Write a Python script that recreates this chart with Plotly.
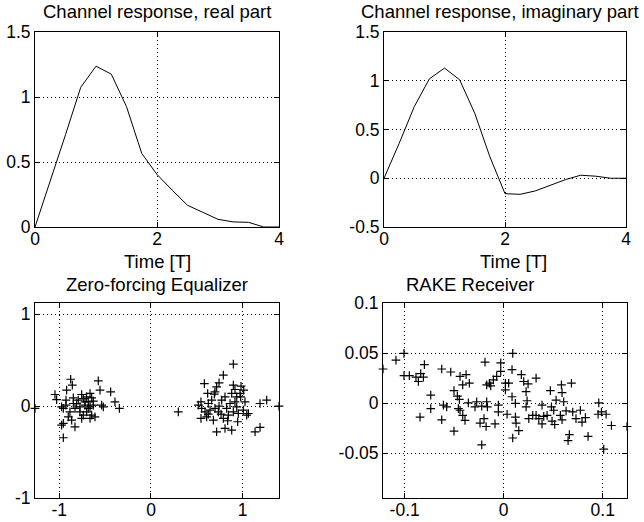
import plotly.graph_objects as go

# ---- channel impulse response, sampled every T/4 ----
time_T = [0, 0.25, 0.5, 0.75, 1.0, 1.25, 1.5, 1.75, 2.0, 2.25, 2.5, 2.75, 3.0, 3.25, 3.5, 3.75, 4.0]
h_real = [0, 0.35, 0.71, 1.075, 1.237, 1.176, 0.926, 0.566, 0.404, 0.283, 0.167, 0.113, 0.059, 0.039, 0.036, 0.0, 0.0]
h_imag = [0, 0.357, 0.734, 1.02, 1.13, 1.01, 0.666, 0.22, -0.158, -0.165, -0.13, -0.075, -0.014, 0.031, 0.021, 0.0, 0.0]

# ---- zero-forcing equalizer output (symbol estimates) ----
zf_real = [
    -0.876, -0.858, -0.575, -0.556, -0.44, -1.047, -1.029, -0.920, -0.927, -0.847,
    -0.756, -0.738, -0.684, -0.702, -0.647, -0.629, -0.665, -0.720, -0.775, -0.811,
    -0.975, -0.956, -0.927, -0.884, -0.829, -0.775, -0.738, -0.647, -0.611, -0.665,
    -0.520, -0.393, -0.345, -0.902, -0.865, -0.829, -0.975, -0.956, -0.956, -0.756,
    -0.702, -0.793, -0.665, -0.629, -0.538, -0.720, -0.684, -0.847, -1.265,
    0.898, 0.789, 0.742, 0.582, 0.618, 0.698, 0.691, 0.716, 0.898, 0.916,
    0.982, 1.011, 0.971, 0.880, 0.807, 0.771, 0.662, 0.545, 0.516, 0.553,
    0.625, 0.644, 0.698, 0.742, 0.735, 0.825, 0.862, 0.916, 0.935, 0.898,
    0.844, 0.953, 1.044, 1.025, 1.189, 1.262, 1.396, 0.298, 0.545, 0.607,
    0.680, 0.945, 0.716, 0.807, 0.880, 1.135, 1.189, 0.625, 0.789, 0.836,
    0.589, 0.764, 0.935, 0.978, 1.007, 1.062,
]
zf_imag = [
    0.293, 0.228, 0.275, 0.174, 0.156, 0.127, 0.072, 0.174, 0.065, 0.091,
    0.127, 0.083, 0.047, 0.101, 0.091, 0.011, -0.007, 0.011, -0.007, 0.029,
    -0.007, -0.025, 0.011, -0.062, -0.025, -0.062, -0.098, -0.098, -0.116, -0.134,
    -0.007, 0.047, -0.025, -0.116, -0.152, -0.225, -0.207, -0.188, -0.344, -0.134,
    -0.062, 0.065, 0.138, 0.054, 0.011, 0.047, -0.025, 0.029, -0.025,
    0.457, 0.337, 0.254, 0.246, 0.138, 0.156, 0.130, 0.210, 0.228, 0.181,
    0.217, 0.174, 0.138, 0.138, 0.101, 0.065, 0.065, 0.047, 0.011, -0.025,
    0.029, -0.043, -0.025, 0.0, -0.062, -0.025, 0.029, 0.047, -0.007, -0.062,
    -0.098, -0.080, -0.098, 0.047, 0.029, 0.065, 0.0, -0.062, -0.134, -0.116,
    -0.152, -0.170, -0.279, -0.243, -0.261, -0.279, -0.232, -0.087, -0.134, -0.159,
    -0.062, -0.087, 0.101, 0.101, -0.043, -0.080,
]

# ---- RAKE receiver output ----
rake_real = [
    -0.1007, -0.1088, -0.1219, -0.1007, -0.0953, -0.0886, -0.0862, -0.0838, -0.0811, -0.0801,
    -0.0737, -0.0737, -0.0845, -0.0626, -0.0535, -0.0441, -0.0380, -0.0414, -0.0347, -0.0502,
    -0.0468, -0.0448, -0.0609, -0.0576, -0.0626, -0.0441, -0.0414, -0.0458, -0.0391, -0.0502,
    -0.0357, -0.0273, -0.0290, -0.0222, -0.0172, -0.0165, -0.0054, -0.0054, -0.0239, -0.0199,
    -0.0178, -0.0088, -0.0222, -0.0189, -0.0145, -0.0104, -0.0071, -0.0030, -0.0030, -0.0131,
    -0.0172,
    0.0091, 0.0084, 0.0017, 0.0050, 0.0017, 0.0178, 0.0202, 0.0246, 0.0226, 0.0236,
    0.0226, 0.0327, 0.0084, 0.0118, 0.0034, 0.0118, 0.0125, 0.0152, 0.0091, 0.0253,
    0.0293, 0.0327, 0.0387, 0.0404, 0.0438, 0.0471, 0.0583, 0.0589, 0.0684, 0.0529,
    0.0482, 0.0505, 0.0488, 0.0515, 0.0589, 0.0630, 0.0697, 0.0730, 0.0774, 0.0791,
    0.0825, 0.0663, 0.0650, 0.0852, 0.0960, 0.0953, 0.0987, 0.1034, 0.1088, 0.1010,
    0.1245, 0.0606, 0.0387, 0.0354, 0.0572,
]
rake_imag = [
    0.0497, 0.0429, 0.0341, 0.0274, 0.0274, 0.0260, 0.0216, 0.0294, 0.0260, 0.0385,
    0.0081, -0.0054, -0.0139, 0.0341, 0.0311, 0.0267, 0.0284, 0.0182, 0.0199, 0.0125,
    0.0071, 0.0037, -0.0020, -0.0037, -0.0166, -0.0071, -0.0122, -0.0054, -0.0172, -0.0280,
    0.0003, 0.0014, -0.0037, -0.0030, 0.0014, -0.0037, -0.0020, -0.0088, -0.0199, -0.0155,
    -0.0233, -0.0206, -0.0416, 0.0409, 0.0199, 0.0233, 0.0267, 0.0318, 0.0402, 0.0172,
    0.0182,
    0.0497, 0.0334, 0.0199, 0.0199, 0.0132, 0.0284, 0.0216, 0.0193, 0.0115, 0.0024,
    -0.0037, 0.0250, 0.0064, -0.0003, -0.0111, -0.0139, -0.0199, -0.0274, -0.0348, -0.0155,
    -0.0122, -0.0122, -0.0206, -0.0132, -0.0122, 0.0125, 0.0182, 0.0105, 0.0199, 0.0030,
    -0.0037, -0.0071, -0.0179, -0.0213, -0.0166, -0.0078, -0.0088, -0.0155, -0.0071, -0.0189,
    -0.0145, -0.0314, -0.0375, -0.0331, 0.0003, -0.0111, -0.0088, -0.0111, -0.0223, -0.0459,
    -0.0233, 0.0014, -0.0020, -0.0155, -0.0122,
]

# ---- tick labels ----
tl_xticks, tl_xtext = [0, 2, 4], ["0", "2", "4"]
tl_yticks, tl_ytext = [0, 0.5, 1, 1.5], ["0", "0.5", "1", "1.5"]
tr_yticks, tr_ytext = [-0.5, 0, 0.5, 1, 1.5], ["-0.5", "0", "0.5", "1", "1.5"]
zf_ticks, zf_text = [-1, 0, 1], ["-1", "0", "1"]
rk_xticks, rk_xtext = [-0.1, 0, 0.1], ["-0.1", "0", "0.1"]
rk_yticks, rk_ytext = [-0.05, 0, 0.05, 0.1], ["-0.05", "0", "0.05", "0.1"]

W, H = 644, 522
FONT = "Liberation Sans, Arial, Helvetica, sans-serif"
TICK_FS = 17.5
TEXT_FS = 18.5


def px_x(p):
    return p / W


def px_y(p):
    return 1 - p / H


def axis(domain, rng, vals, text, anchor, standoff=0):
    return dict(
        domain=domain, range=rng, anchor=anchor, automargin=False,
        tickmode="array", tickvals=vals, ticktext=text,
        showline=True, linecolor="black", linewidth=1, mirror="ticks",
        ticks="inside", ticklen=5, tickcolor="black", tickwidth=1,
        showgrid=True, gridcolor="black", gridwidth=1, griddash="1px,3px",
        zeroline=False, fixedrange=True, ticklabelstandoff=standoff,
        tickfont=dict(family=FONT, size=TICK_FS, color="black"),
    )


def xaxis(domain, rng, vals, text, anchor):
    # bottom tick labels sit close under the frame
    return axis(domain, rng, vals, text, anchor, standoff=-4)


line_style = dict(color="black", width=1)
marker_style = dict(symbol="cross-thin", size=6.2, color="black",
                    line=dict(color="black", width=1.2))

fig = go.Figure()
fig.add_trace(go.Scatter(x=time_T, y=h_real, mode="lines", line=line_style,
                         xaxis="x", yaxis="y", showlegend=False))
fig.add_trace(go.Scatter(x=time_T, y=h_imag, mode="lines", line=line_style,
                         xaxis="x2", yaxis="y2", showlegend=False))
fig.add_trace(go.Scatter(x=zf_real, y=zf_imag, mode="markers", marker=marker_style,
                         cliponaxis=False, xaxis="x3", yaxis="y3", showlegend=False))
fig.add_trace(go.Scatter(x=rake_real, y=rake_imag, mode="markers", marker=marker_style,
                         cliponaxis=False, xaxis="x4", yaxis="y4", showlegend=False))

top = [px_y(227), px_y(32)]
bottom = [px_y(498), px_y(303)]
left = [px_x(35), px_x(279)]

fig.update_layout(
    width=W, height=H, autosize=False,
    margin=dict(l=0, r=0, t=0, b=0, pad=0, autoexpand=False),
    paper_bgcolor="white", plot_bgcolor="white",
    font=dict(family=FONT, size=TEXT_FS, color="black"),
    xaxis=xaxis(left, [0, 4], tl_xticks, tl_xtext, "y"),
    yaxis=axis(top, [0, 1.5], tl_yticks, tl_ytext, "x"),
    xaxis2=xaxis([px_x(384), px_x(626)], [0, 4], tl_xticks, tl_xtext, "y2"),
    yaxis2=axis(top, [-0.5, 1.5], tr_yticks, tr_ytext, "x2"),
    xaxis3=xaxis(left, [-1.265, 1.396], zf_ticks, zf_text, "y3"),
    yaxis3=axis(bottom, [-1, 1.123], zf_ticks, zf_text, "x3"),
    xaxis4=xaxis([px_x(383), px_x(627)], [-0.1219, 0.1245], rk_xticks, rk_xtext, "y4"),
    yaxis4=axis(bottom, [-0.0947, 0.1], rk_yticks, rk_ytext, "x4"),
)

labels = [
    ("Channel response, real part", 157, 12),
    ("Channel response, imaginary part", 500, 12),
    ("Time [T]", 157.5, 261),
    ("Time [T]", 513, 261),
    ("Zero-forcing Equalizer", 157, 284),
    ("RAKE Receiver", 470.5, 284),
]
for text, cx, cy in labels:
    fig.add_annotation(text=text, x=px_x(cx), y=px_y(cy), xref="paper", yref="paper",
                       xanchor="center", yanchor="middle", showarrow=False,
                       font=dict(family=FONT, size=TEXT_FS, color="black"))

fig.write_html("out.html")
